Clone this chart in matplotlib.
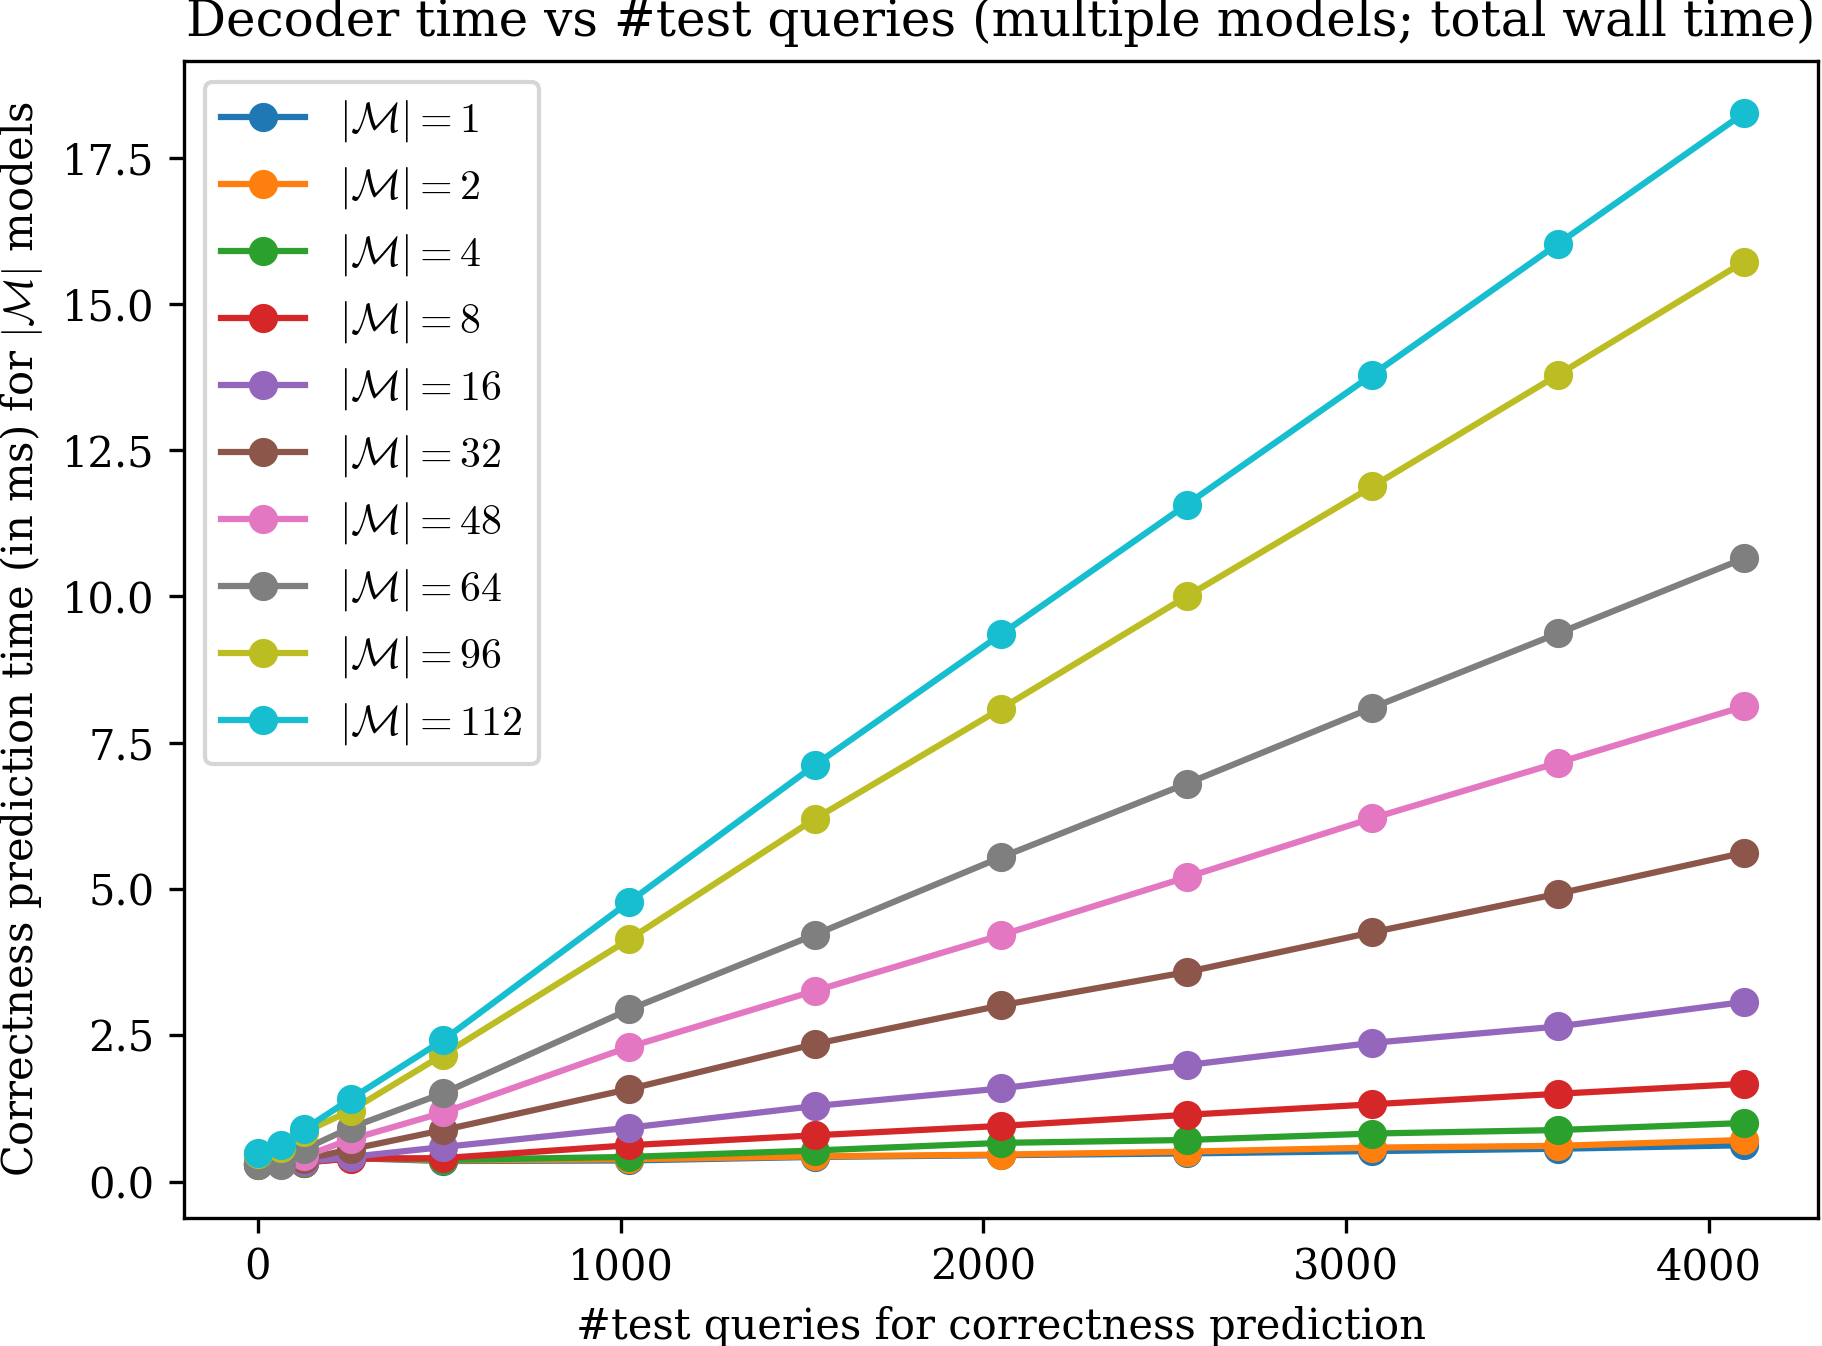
import numpy as np
import matplotlib
matplotlib.use("Agg")
import matplotlib.pyplot as plt

plt.rcParams["font.family"] = "DejaVu Serif"
plt.rcParams["mathtext.fontset"] = "cm"

# #test queries
queries = [1, 64, 128, 256, 512, 1024, 1536, 2048, 2560, 3072, 3584, 4096]

# model counts |M|
model_counts = [1, 2, 4, 8, 16, 32, 48, 64, 96, 112]

# wall time (ms) per model count
t_m1 = [0.31, 0.32, 0.32, 0.40, 0.35, 0.36, 0.42, 0.45, 0.48, 0.52, 0.56, 0.62]
t_m2 = [0.31, 0.32, 0.32, 0.41, 0.36, 0.38, 0.43, 0.46, 0.51, 0.58, 0.61, 0.71]
t_m4 = [0.30, 0.32, 0.32, 0.42, 0.37, 0.42, 0.53, 0.66, 0.71, 0.82, 0.88, 1.00]
t_m8 = [0.30, 0.32, 0.33, 0.39, 0.40, 0.62, 0.79, 0.95, 1.14, 1.32, 1.50, 1.67]
t_m16 = [0.30, 0.32, 0.33, 0.42, 0.59, 0.92, 1.29, 1.59, 1.99, 2.37, 2.65, 3.07]
t_m32 = [0.29, 0.35, 0.38, 0.55, 0.88, 1.58, 2.35, 3.01, 3.58, 4.26, 4.92, 5.62]
t_m48 = [0.30, 0.40, 0.43, 0.72, 1.18, 2.30, 3.26, 4.21, 5.20, 6.21, 7.16, 8.12]
t_m64 = [0.29, 0.28, 0.55, 0.92, 1.51, 2.94, 4.22, 5.54, 6.80, 8.10, 9.37, 10.65]
t_m96 = [0.47, 0.58, 0.84, 1.21, 2.17, 4.14, 6.20, 8.08, 10.00, 11.88, 13.79, 15.72]
t_m112 = [0.48, 0.62, 0.89, 1.41, 2.42, 4.78, 7.12, 9.35, 11.57, 13.79, 16.03, 18.26]

series = [t_m1, t_m2, t_m4, t_m8, t_m16, t_m32, t_m48, t_m64, t_m96, t_m112]

fig = plt.figure(figsize=(1822 / 300, 1346 / 300), dpi=300)
ax = fig.add_subplot(111)
fig.subplots_adjust(left=0.1008, right=0.998, top=0.955, bottom=0.0953)

for m, times in zip(model_counts, series):
    ax.plot(queries, times, marker="o", label=rf"$|\mathcal{{M}}| = {m}$")

ax.set_title("Decoder time vs #test queries (multiple models; total wall time)")
ax.set_xlabel("#test queries for correctness prediction")
ax.set_ylabel(r"Correctness prediction time (in ms) for $|\mathcal{M}|$ models")
ax.legend(loc="upper left", prop={"size": 10.07})

fig.savefig("out.png", dpi=300)
